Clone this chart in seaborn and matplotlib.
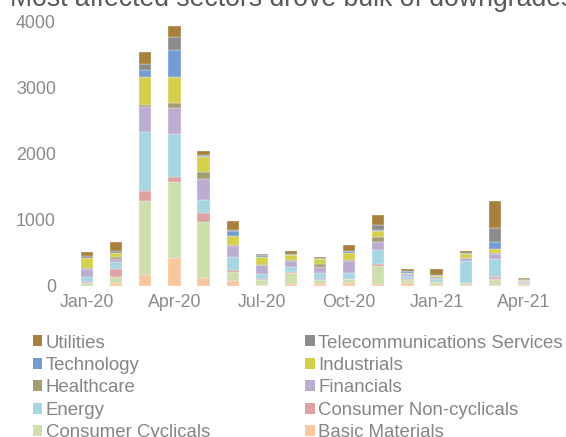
import matplotlib
matplotlib.use("Agg")
import matplotlib.pyplot as plt
import pandas as pd
import seaborn as sns
from matplotlib.patches import Patch

months = ["Jan-20", "Feb-20", "Mar-20", "Apr-20", "May-20", "Jun-20", "Jul-20", "Aug-20",
          "Sep-20", "Oct-20", "Nov-20", "Dec-20", "Jan-21", "Feb-21", "Mar-21", "Apr-21"]

utilities     = [61, 141, 192, 157, 61, 136, 5, 40, 20, 91, 152, 20, 81, 25, 414, 20]
telecom       = [20, 20, 91, 207, 18, 20, 5, 15, 5, 10, 86, 10, 10, 10, 212, 5]
technology    = [5, 5, 96, 394, 18, 66, 25, 5, 5, 25, 10, 20, 5, 5, 91, 5]
industrials   = [155, 56, 429, 404, 218, 136, 126, 71, 81, 101, 81, 15, 25, 61, 71, 10]
healthcare    = [15, 40, 20, 66, 111, 10, 5, 10, 35, 25, 86, 10, 5, 10, 10, 5]
financials    = [121, 45, 379, 394, 318, 177, 136, 96, 101, 177, 116, 30, 25, 45, 76, 10]
energy        = [66, 106, 894, 646, 192, 187, 66, 76, 81, 86, 212, 40, 35, 323, 268, 15]
cons_noncyc   = [20, 121, 152, 81, 146, 30, 15, 15, 15, 10, 30, 20, 10, 5, 35, 15]
cons_cyc      = [40, 91, 1111, 1141, 833, 146, 76, 157, 71, 56, 278, 45, 45, 35, 96, 15]
basic_mat     = [5, 40, 172, 429, 127, 71, 20, 36, 25, 45, 25, 40, 10, 10, 10, 20]

sectors = ["Utilities", "Telecommunications Services", "Technology", "Industrials",
           "Healthcare", "Financials", "Energy", "Consumer Non-cyclicals",
           "Consumer Cyclicals", "Basic Materials"]
series = [utilities, telecom, technology, industrials, healthcare, financials,
          energy, cons_noncyc, cons_cyc, basic_mat]
colors = ["#A6803C", "#8C8C8C", "#759CD2", "#D5D04C", "#A49D74", "#BBADD0",
          "#A7D5E1", "#DEA2A2", "#CFDEAD", "#F9C79E"]

xtick_idx = [0, 3, 6, 9, 12, 15]
xtick_labels = [months[i] for i in xtick_idx]
ytick_vals = [0, 1000, 2000, 3000, 4000]

rows = []
for name, vals in zip(sectors, series):
    for i, v in enumerate(vals):
        rows.append({"idx": i, "sector": name, "value": v})
df = pd.DataFrame(rows)

sns.set_theme(style="white")
plt.rcParams["font.family"] = ["Liberation Sans", "DejaVu Sans"]

W, H = 566, 437
fig = plt.figure(figsize=(W / 100, H / 100), dpi=100)
ax = fig.add_axes([72.5 / W, 1 - 286 / H, 466 / W, 265 / H])

palette = dict(zip(sectors, colors))
sns.histplot(data=df, x="idx", weights="value", hue="sector", hue_order=sectors,
             palette=palette, multiple="stack", discrete=True, shrink=0.42,
             edgecolor="#F4F4F4", linewidth=0.25, alpha=1, legend=False, ax=ax)

ax.set_xlim(-0.5, 15.5)
ax.set_ylim(0, 4000)
ax.set_xticks(xtick_idx)
ax.set_xticklabels(xtick_labels)
ax.set_yticks(ytick_vals)
ax.set_yticklabels([str(v) for v in ytick_vals])
ax.set_xlabel("")
ax.set_ylabel("")
for s in ax.spines.values():
    s.set_visible(False)
tc = "#8A8A8A"
ax.tick_params(axis="y", colors=tc, labelsize=12.8, pad=12, length=0)
ax.tick_params(axis="x", colors=tc, labelsize=12.8, pad=6, length=0)
ax.grid(False)

fig.text(10 / W, 1 - 6 / H, "Most affected sectors drove bulk of downgrades",
         fontsize=19.2, color="#595959", ha="left", va="baseline")

col1 = [0, 2, 4, 6, 8]
col2 = [1, 3, 5, 7, 9]
for col, xpx in ((col1, 32.5), (col2, 305)):
    handles = [Patch(facecolor=colors[i], edgecolor="none") for i in col]
    labels = [sectors[i] for i in col]
    leg = fig.legend(handles, labels, loc="upper left",
                     bbox_to_anchor=(xpx / W, 1 - 334.5 / H), frameon=False,
                     borderpad=0, borderaxespad=0, handlelength=0.52,
                     handleheight=0.52, handletextpad=0.2, labelspacing=0.29,
                     fontsize=13.4)
    for t in leg.get_texts():
        t.set_color("#858585")

fig.savefig("out.png", dpi=100)
